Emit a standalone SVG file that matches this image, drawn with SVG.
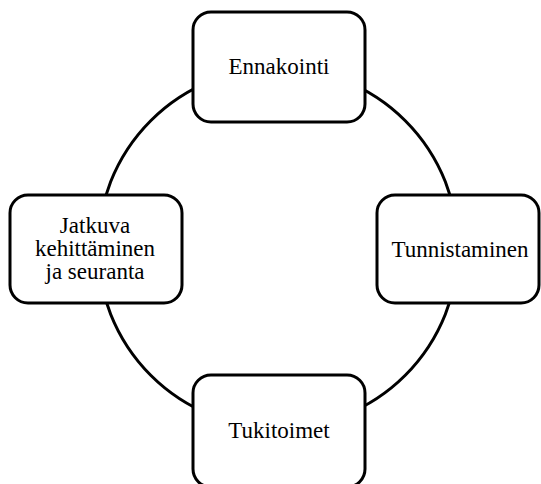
<svg xmlns="http://www.w3.org/2000/svg" width="541" height="484" viewBox="0 0 541 484">
<style>
.box{fill:#fff;stroke:#000;stroke-width:3}
.t{font-family:"Liberation Serif","Times New Roman",serif;font-size:23px;fill:#000;text-anchor:middle}
</style>
<rect width="541" height="484" fill="#fff"/>
<g id="connectors">
<circle cx="278" cy="248" r="180" fill="none" stroke="#000" stroke-width="3"/>
</g>
<g id="ennakointi">
<rect class="box" x="193" y="12" width="172" height="110" rx="18"/>
<text class="t" x="279" y="74">Ennakointi</text>
</g>
<g id="tunnistaminen">
<rect class="box" x="377" y="195" width="162" height="108" rx="18"/>
<text class="t" x="460" y="257">Tunnistaminen</text>
</g>
<g id="tukitoimet">
<rect class="box" x="193" y="375" width="172" height="112" rx="18"/>
<text class="t" x="279" y="438">Tukitoimet</text>
</g>
<g id="jatkuva">
<rect class="box" x="10" y="195" width="172" height="108" rx="18"/>
<text class="t" x="95" y="233">Jatkuva</text>
<text class="t" x="95" y="256">kehittäminen</text>
<text class="t" x="95" y="279">ja seuranta</text>
</g>
</svg>
